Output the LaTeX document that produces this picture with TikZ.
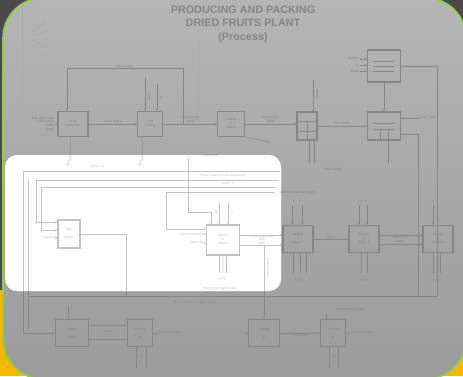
\documentclass[tikz,border=0pt]{standalone}
\usepackage{fontspec}
\setmainfont{Liberation Sans}
\usetikzlibrary{arrows.meta}
\definecolor{outdark}{HTML}{4A4A4A}
\definecolor{outyel}{HTML}{F3B800}
\definecolor{grn}{HTML}{8CD23A}
\definecolor{linec}{HTML}{868686}
\definecolor{txtc}{HTML}{838383}
\definecolor{titc}{HTML}{858585}
\begin{document}
\begin{tikzpicture}[x=1pt,y=-1pt,
  box/.style={draw=linec,line width=1.1pt,inner sep=0pt,align=center,font=\fontsize{3.3}{3.9}\selectfont,text=txtc},
  lab/.style={font=\fontsize{3.2}{3.8}\selectfont,text=txtc,align=center,inner sep=0.5pt},
  ln/.style={draw=linec,line width=0.5pt},
  ar/.style={ln,-{Stealth[length=2.2pt,width=2pt]}},
  faint/.style={draw=linec!70,line width=0.5pt}]
\useasboundingbox (0,0) rectangle (463,376);
\fill[outdark] (0,0) rectangle (463,290);
\fill[outyel] (0,290) rectangle (463,376);
\begin{scope}
\clip[rounded corners=40pt] (3,-2) rectangle (466,379);
\shade[top color=black!29,bottom color=black!39] (0,0) rectangle (463,376);
\fill[white,rounded corners=12pt] (5,155) rectangle (281,291);
% title
\node[font=\bfseries\fontsize{10.8}{13.5}\selectfont,text=titc,align=center] (title) at (243,24) {PRODUCING AND PACKING\\DRIED FRUITS PLANT\\(Process)};
% faint background marks
\draw[faint] (22,0) -- (22,100);
\draw[faint] (198,40) -- (198,155);
\draw[faint] (32,32) -- (45,22) (32,36) -- (47,31) (32,40) -- (46,47) (33,44) -- (44,55);
% ---- row 1 ----
\node[box,minimum width=30pt,minimum height=25pt] (b1) at (73,124) {Fruit\\Reception};
\node[lab,align=right,anchor=east] (b1in) at (55,124) {Bulk Raw Fruits\\Delivered to\\Plant\\(kg/h)};
\draw[ar] (b1in.east) -- (b1.west);
\node[box,minimum width=25pt,minimum height=25pt] (b2) at (150,124) {Fruit\\Sorting};
\draw[ar] (b1) -- node[lab,above]{Fruits (kg/h)} (b2);
\node[box,minimum width=27pt,minimum height=25pt] (b3) at (231,124) {Peeling\\\&\\Slicing};
\draw[ar] (b2) -- node[lab,above]{Sorted fruits\\(kg/h)} (b3);
\node[box,minimum width=20pt,minimum height=28pt] (b4) at (307,126) {};
\draw[ln] (297,121) -- (317,121) (297,131) -- (317,131) (307,121) -- (307,140);
\draw[ar] (b3.east) -- node[lab,above]{Sliced fruits\\(kg/h)} (b3.east -| b4.west);
\node[box,minimum width=33pt,minimum height=28pt] (b5) at (384,126) {};
\draw[ln,line width=1pt] (373,123) -- (395,123) (373,129) -- (395,129);
\draw[ln] (380,129) -- (380,140) (388,129) -- (388,140);
\draw[ar] (b4) -- node[lab,above]{Fruit (kg/h)} (b5);
\node[box,minimum width=33pt,minimum height=32pt] (b6) at (384,66) {};
\draw[ln,line width=1pt] (373,61) -- (394,61) (373,66) -- (394,66) (373,71) -- (394,71);
\node[lab,anchor=east] (i1) at (360,59) {Sulphur};
\node[lab,anchor=east] (i2) at (360,65) {Air};
\node[lab,anchor=east] (i3) at (360,71) {Water};
\draw[ar] (i1.east) -- (i1.east -| b6.west);
\draw[ar] (i2.east) -- (i2.east -| b6.west);
\draw[ar] (i3.east) -- (i3.east -| b6.west);
\draw[ar] (b6) -- (b5);
\coordinate (o5) at (420,118);
\draw[ar] (b5.east |- o5) -- (o5);
\node[lab,anchor=west] (o5l) at (o5) {SO2, SO3};
\draw[ln] (b6.east) -- (437,66) -- (437,296);
\draw[ln] (b5.east |- 0,134) -- (418,134) -- (418,296);
% recycle loop
\coordinate (lp1) at (67,68);
\coordinate (lp2) at (183,68);
\draw[ar] (lp2 |- b2.east) -- (lp2) -- node[lab,above]{Wash water} (lp1) -- (b1.north -| lp1);
% inputs to b2, b4
\coordinate (t21) at (145,78);
\coordinate (t22) at (157,84);
\draw[ar] (t21) -- (t21 |- b2.north);
\draw[ar] (t22) -- (t22 |- b2.north);
\node[lab,rotate=90] (t21l) at (149,96) {Water};
\node[lab,rotate=90] (t22l) at (161,98) {Air};
\coordinate (t41) at (313,80);
\draw[ar] (t41) -- (t41 |- b4.north);
\node[lab,rotate=90] (t41l) at (317,94) {Steam};
\draw[ln] (b3.south east) -- (270,142);
% b4, b5 bottoms
\draw[ln] (309,140) -- (309,163) (314,140) -- (314,163) (388,140) -- (388,163);
\node[lab] (st3) at (333,170) {Steam (kg/h)};
% curly arrows
\draw[ar] (b1.south -| 70,0) -- (70,154) .. controls (74,158) and (67,160) .. (68,166);
\draw[ar] (b2.south -| 142,0) -- (142,154) .. controls (146,158) and (139,160) .. (140,166);
\node[lab] (s1) at (97,167) {Steam (1)};
% ---- row 2 ----
\node[box,minimum width=22pt,minimum height=28pt] (m1) at (69,234) {Mix\\\\Stage1};
\node[box,minimum width=33pt,minimum height=30pt] (c) at (223,240) {Drying\\In\\Stage 1};
\node[box,minimum width=30pt,minimum height=27pt] (d1) at (298,239) {Drying\\II\\Stage 2};
\node[box,minimum width=30pt,minimum height=27pt] (d2) at (364,239) {Drying\\III\\Stage 3};
\node[box,minimum width=30pt,minimum height=27pt] (d3) at (438,239) {Drying\\IV\\Stage 4};
% bottom row
\node[box,minimum width=33pt,minimum height=27pt] (e1) at (72,333) {Syrup\\\\Tank};
\node[box,minimum width=25pt,minimum height=27pt] (e2) at (140,333) {Packing\\\\A};
\node[box,minimum width=31pt,minimum height=27pt] (e3) at (264,333) {Cooling\\\\B};
\node[box,minimum width=25pt,minimum height=27pt] (e4) at (333,333) {Packing\\\\B};
% left frame loops
\draw[ar] (280,171) -- (23,171) -- (23,333) -- (e1.west);
\draw[ln] (28,180) -- (28,330);
\coordinate (m1a) at (36,222);
\coordinate (m1b) at (41,230);
\draw[ar] (278,180) -- (36,180) -- (m1a) -- (m1a -| m1.west);
\draw[ar] (275,187) -- (41,187) -- (m1b) -- (m1b -| m1.west);
\node[lab,anchor=east] (sug) at (56,238) {Sugarine};
\draw[ar] (sug.east) -- (sug.east -| m1.west);
\draw[ar] (m1.east) -- (126,234) -- (126,296);
% central stage
\node[lab] (sqc) at (223,176) {Steam Quart Condensate (kg/h)};
\node[lab] (st2) at (228,184) {Steam (2)};
\node[lab] (sc) at (297,193) {Steam Condensate (kg/h)};
\node[lab] (cnd) at (210,155) {Condensate};
\coordinate (cl) at (166,192);
\draw[ar] (275,192) -- (cl) -- (166,229) -- (166,229 -| c.west);
\draw[ar] (188,158) -- (188,212) -- (211,212) -- (211,212 |- c.north);
\coordinate (ct1) at (219,203);
\coordinate (ct2) at (228,203);
\draw[ar] (ct1) -- (ct1 |- c.north);
\draw[ar] (ct2) -- (ct2 |- c.north);
\node[lab,rotate=90] (ct1l) at (216,212) {Air};
\node[lab,rotate=90] (ct2l) at (232,212) {S};
\node[lab,anchor=east] (salt) at (204,234) {Salt condensate};
\node[lab,anchor=east] (wat) at (204,243) {Water (B)};
\draw[ar] (salt.east) -- (salt.east -| c.west);
\draw[ar] (wat.east) -- (wat.east -| c.west);
\draw[ar] (c.east |- 0,235) -- (d1.west |- 0,235);
\draw[ar] (c.east |- 0,245) -- (d1.west |- 0,245);
\node[lab] (cmp) at (262,240) {Cmp condensate\\(kg)\\(kg/h)};
\coordinate (j1) at (264,245);
\draw[ar] (j1) -- (e3.north);
\node[lab,rotate=90] (j1l) at (268,268) {Steam (kg/h)};
\draw[ln] (219,255) -- (219,273) (226,255) -- (226,273);
\node[lab,rotate=90] (cbl) at (223,264) {Steam (kg/h)};
\node[lab] (cpts) at (222,279) {P T S};
\node[lab] (fc) at (220,289) {Fruit Cond (kg/h) Syrup};
% right stages
\draw[ar] (292,205) -- (292,205 |- d1.north);
\draw[ar] (302,205) -- (302,205 |- d1.north);
\node[lab] (d1t) at (297,201) {S \quad P};
\draw[ar] (359,205) -- (359,205 |- d2.north);
\draw[ar] (367,205) -- (367,205 |- d2.north);
\node[lab] (d2t) at (363,201) {S \quad P};
\draw[ar] (433,205) -- (433,205 |- d3.north);
\node[lab] (d3t) at (433,201) {S};
\draw[ar] (d1) -- node[lab,above]{Dried} (d2);
\draw[ar] (d2.east |- 0,235) -- (d3.west |- 0,235);
\draw[ar] (d2.east |- 0,244) -- (d3.west |- 0,244);
\node[lab] (d23) at (400,240) {Dried fruit\\(kg/h)};
\foreach \x in {293,300,306,361,367,433,440}{
  \draw[ln] (\x,252.5) -- (\x,273);}
\node[lab] (d1p) at (298,280) {P T S};
\node[lab] (d2p) at (364,280) {P T S};
\node[lab] (d3p) at (437,280) {P T S};
% long lines lower
\draw[ln] (28,296) -- (437,296);
\node[lab] (bc) at (195,303) {Bulk Condensate (kg/h) (kg/h)};
\draw[ar] (68,306) -- (68,319.5);
\draw[ar] (e1.east |- 0,325) -- (e2.west |- 0,325);
\draw[ar] (e1.east |- 0,339) -- (e2.west |- 0,339);
\node[lab] (syr) at (108,332) {Syrup};
\draw[ar] (e2.east) -- (158,333);
\node[lab,anchor=west] (e2o) at (158,333) {Bulk Fruits (kg/h)};
\draw[ar] (e3) -- node[lab,below]{Fruit (kg/h)} (e4);
\draw[ar] (e4.east) -- (350,333);
\node[lab,anchor=west] (e4o) at (350,333) {Bulk Fruit (kg/h)};
\node[lab] (e4t) at (350,310) {Steam Quality (kg/h)};
\draw[ar] (326,314) -- (326,314 |- e4.north);
\draw[ln] (136,346.5) -- (136,368) (146,346.5) -- (146,368);
\draw[ln] (329,346.5) -- (329,368) (338,346.5) -- (338,368);
\node[lab,rotate=90] (e2b) at (141,358) {Cond.};
\node[lab,rotate=90] (e4b) at (334,358) {Cond.};
\draw[ar] (247,333) -- (e3.west);
% white overlay (lightens the diagram under the panel)
\fill[white,opacity=0.5,rounded corners=12pt] (5,155) rectangle (281,291);
\end{scope}
\draw[grn,line width=1.6pt,rounded corners=40pt] (3,-2) rectangle (466,379);
\end{tikzpicture}
\end{document}
